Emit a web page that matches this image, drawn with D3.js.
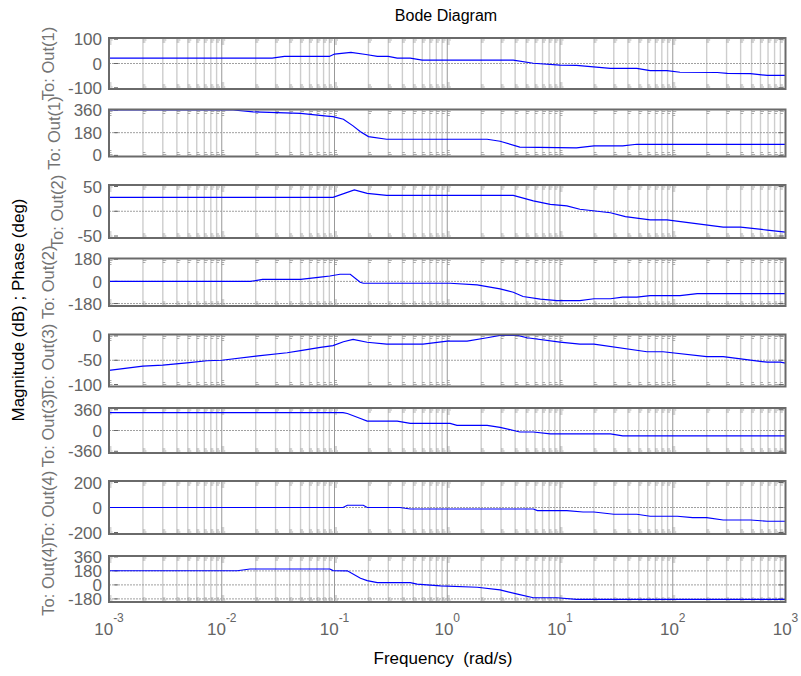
<!DOCTYPE html>
<html>
  <head>
    <meta charset="utf-8">
    <title>Bode Diagram</title>
    <script src="https://cdn.jsdelivr.net/npm/d3@7"></script>
    <style>
      body { margin: 0; background: #fff; }
      svg { font-family: "Liberation Sans", Arial, sans-serif; }
    </style>
  </head>

  <body>
    <svg id="chart" width="801" height="676"></svg>

    <script>
      // data (frequency in rad/s, magnitude in dB, phase in deg)
      var out1MagW = [0.001, 0.028, 0.036, 0.09, 0.1, 0.14, 0.19, 0.24, 0.3, 0.36, 0.47, 0.6, 3.85, 5.8, 10, 14, 28, 48, 63, 89, 116, 248, 305, 488, 690, 1000];
      var out1MagDb = [22, 22, 29, 29, 39, 46, 37, 29, 29, 22, 22, 14, 14, 1, -7, -8, -20, -20, -29, -29, -36, -37, -41, -42, -49, -49];
      var out1PhaseW = [0.001, 0.0126, 0.019, 0.05, 0.086, 0.097, 0.12, 0.146, 0.17, 0.2, 0.29, 2.26, 2.94, 4.4, 14, 20, 36, 48, 1000];
      var out1PhaseDeg = [360, 360, 345, 333, 312, 307, 287, 234, 188, 149, 128, 128, 112, 65, 60, 75, 75, 88, 88];

      var out2MagW = [0.001, 0.097, 0.15, 0.195, 0.29, 3.85, 5.8, 8.2, 11.5, 15, 28, 38, 63, 89, 280, 400, 690, 1000];
      var out2MagDb = [28, 28, 43, 36, 32, 32, 21, 14, 11, 4, -3, -11, -17.5, -17.5, -32, -32, -38, -42];
      var out2PhaseW = [0.001, 0.018, 0.023, 0.05, 0.075, 0.091, 0.112, 0.138, 0.169, 0.18, 1.06, 1.84, 2.94, 3.85, 4.7, 6.7, 9.4, 15, 20, 28, 36, 48, 63, 116, 165, 1000];
      var out2PhaseDeg = [0, 0, 16, 16, 34, 44, 58, 58, -7, -15, -15, -29, -61, -88, -123, -144, -157, -157, -141, -141, -128, -128, -115, -115, -99, -99];

      var out3MagW = [0.001, 0.002, 0.003, 0.0049, 0.0074, 0.01, 0.021, 0.038, 0.05, 0.075, 0.097, 0.12, 0.146, 0.195, 0.29, 0.61, 1.0, 1.5, 2.26, 2.94, 4.2, 5.1, 10, 15, 20, 59, 82, 200, 280, 690, 900, 1000];
      var out3MagDb = [-71, -62, -60, -55.5, -51, -50, -41, -34.5, -30, -23.5, -20, -12, -7, -13, -17, -17, -10.6, -10.6, -3.7, 1, 1, -3.7, -12.5, -17, -17, -32.5, -32.5, -42.6, -42.6, -54, -54, -56];
      var out3PhaseW = [0.001, 0.119, 0.13, 0.17, 0.195, 0.36, 0.47, 1.06, 1.22, 2.26, 2.94, 4.4, 5.8, 8.2, 28, 36, 1000];
      var out3PhaseDeg = [311, 311, 294, 209, 162, 162, 123, 123, 89, 89, 55, -26, -26, -60, -60, -94, -94];

      var out4MagW = [0.001, 0.119, 0.13, 0.18, 0.195, 0.38, 0.47, 5.8, 6.3, 11.5, 16, 20, 30, 48, 63, 110, 150, 200, 280, 490, 690, 1000];
      var out4MagDb = [0, 0, 18, 18, 0, 0, -12, -12, -25, -25, -36, -36, -54, -54, -70, -70, -81, -81, -100, -100, -110, -110];
      var out4PhaseW = [0.001, 0.0137, 0.0178, 0.091, 0.097, 0.13, 0.17, 0.195, 0.24, 0.47, 0.54, 0.87, 1.84, 2.94, 4.2, 5.8, 9.4, 14, 1000];
      var out4PhaseDeg = [182, 182, 205, 205, 185, 181, 85, 55, 30, 30, 9, -13, -30, -64, -119, -165, -165, -186, -186];

      // axis settings
      var outputLabels = ["To: Out(1)", "To: Out(1)", "To: Out(2)", "To: Out(2)", "To: Out(3)", "To: Out(3)", "To: Out(4)", "To: Out(4)"];
      var yTicks = [
        [-100, 0, 100], [0, 180, 360],
        [-50, 0, 50], [-180, 0, 180],
        [-100, -50, 0], [-360, 0, 360],
        [-200, 0, 200], [-180, 0, 180, 360]
      ];
      var yLimits = [
        [-105, 105], [-9, 364],
        [-54, 53], [-200, 186],
        [-104, 3], [-390, 390],
        [-212, 212], [-220, 372]
      ];
      var xTickExponents = [-3, -2, -1, 0, 1, 2, 3];

      var series = [
        [out1MagW, out1MagDb], [out1PhaseW, out1PhaseDeg],
        [out2MagW, out2MagDb], [out2PhaseW, out2PhaseDeg],
        [out3MagW, out3MagDb], [out3PhaseW, out3PhaseDeg],
        [out4MagW, out4MagDb], [out4PhaseW, out4PhaseDeg]
      ];

      // layout (pixel top / bottom of each axes box)
      var boxes = [
        [38, 89], [109.5, 156.5],
        [185, 238], [258.5, 306],
        [334.5, 386.5], [408, 453],
        [481, 534], [556, 602]
      ];
      var plotLeft = 109;
      var plotRight = 785.5;
      var textGray = "#646464";

      var chart = d3.select("#chart");
      var x = d3.scaleLog()
        .domain([1e-3, 1e3])
        .range([plotLeft, plotRight]);

      // grid frequencies: 2..9 x each decade plus the decades themselves
      var gridW = [];
      for (var k = -3; k < 3; k++) {
        for (var m = 1; m <= 9; m++) {
          if (k > -3 || m > 1) gridW.push(m * Math.pow(10, k));
        }
      }
      function isDecade(w) {
        return Math.abs(Math.log10(w) - Math.round(Math.log10(w))) < 1e-9;
      }

      series.forEach(function(s, i) {
        var yTop = boxes[i][0];
        var yBot = boxes[i][1];
        var y = d3.scaleLinear()
          .domain(yLimits[i])
          .range([yBot, yTop]);
        var g = chart.append("g").attr("class", "panel");

        // vertical grid
        g.selectAll(".vgrid")
          .data(gridW)
          .enter()
          .append("line")
            .attr("x1", function(w) { return x(w); })
            .attr("x2", function(w) { return x(w); })
            .attr("y1", yTop)
            .attr("y2", yBot)
            .attr("stroke", function(w) { return isDecade(w) ? "#999" : "#cdcdcd"; })
            .attr("stroke-width", function(w) { return isDecade(w) ? 1 : 1.4; });

        // little minor tick marks at top and bottom of each grid line
        gridW.concat([1e-3]).forEach(function(w) {
          var offs = isDecade(w) ? [2, 4, 6] : [2, 4];
          offs.forEach(function(o, j) {
            var len = j == 0 ? 3.5 : 2.5;
            [yTop + o, yBot - o].forEach(function(yy) {
              g.append("line")
                .attr("x1", x(w)).attr("x2", x(w) + len)
                .attr("y1", yy).attr("y2", yy)
                .attr("stroke", "#8a8a8a").attr("stroke-width", 0.7);
            });
          });
        });

        // horizontal grid at inner ticks
        g.selectAll(".hgrid")
          .data(yTicks[i].filter(function(t) { return y(t) > yTop + 2 && y(t) < yBot - 2; }))
          .enter()
          .append("line")
            .attr("x1", plotLeft)
            .attr("x2", plotRight)
            .attr("y1", function(t) { return y(t); })
            .attr("y2", function(t) { return y(t); })
            .attr("stroke", "#a0a0a0")
            .attr("stroke-width", 1)
            .attr("stroke-dasharray", "2,1");

        // y tick marks left and right
        g.selectAll(".ytickL")
          .data(yTicks[i])
          .enter()
          .append("line")
            .attr("x1", plotLeft + 5)
            .attr("x2", plotLeft + 9)
            .attr("y1", function(t) { return y(t); })
            .attr("y2", function(t) { return y(t); })
            .attr("stroke", "#666");
        g.selectAll(".ytickR")
          .data(yTicks[i])
          .enter()
          .append("line")
            .attr("x1", plotRight - 7)
            .attr("x2", plotRight - 2)
            .attr("y1", function(t) { return y(t); })
            .attr("y2", function(t) { return y(t); })
            .attr("stroke", "#666");

        // response line
        var line = d3.line()
          .x(function(d) { return x(d[0]); })
          .y(function(d) { return y(d[1]); });
        g.append("path")
          .attr("d", line(d3.zip(s[0], s[1])))
          .attr("fill", "none")
          .attr("stroke", "#0000ff")
          .attr("stroke-width", 1.2);

        // axes box
        g.append("rect")
          .attr("x", plotLeft)
          .attr("y", yTop)
          .attr("width", plotRight - plotLeft)
          .attr("height", yBot - yTop)
          .attr("fill", "none")
          .attr("stroke", "#6a6a6a")
          .attr("stroke-width", 2);

        // y tick labels
        var labels = g.selectAll(".ylab")
          .data(yTicks[i])
          .enter()
          .append("text")
            .attr("x", plotLeft - 7)
            .attr("y", function(t) { return y(t); })
            .attr("dy", "0.36em")
            .attr("text-anchor", "end")
            .attr("font-size", 17)
            .attr("fill", textGray)
            .text(function(t) { return t; });
        var widest = 0;
        labels.each(function() {
          widest = Math.max(widest, this.getComputedTextLength());
        });

        // output label, rotated
        var lx = plotLeft - 7 - widest - 14;
        var ly = (yTop + yBot) / 2;
        g.append("text")
          .attr("transform", "translate(" + lx + "," + ly + ") rotate(-90)")
          .attr("text-anchor", "middle")
          .attr("font-size", 16.5)
          .attr("fill", "#737373")
          .text(outputLabels[i]);
      });

      // x tick labels 10^n
      var xLabels = chart.selectAll(".xlab")
        .data(xTickExponents)
        .enter()
        .append("text")
          .attr("x", function(e) { return x(Math.pow(10, e)); })
          .attr("y", 635)
          .attr("text-anchor", "middle")
          .attr("font-size", 17)
          .attr("fill", textGray);
      xLabels.append("tspan")
        .text("10");
      xLabels.append("tspan")
        .attr("dy", -13)
        .attr("font-size", 12)
        .text(function(e) { return e; });

      // titles
      chart.append("text")
        .attr("x", 446)
        .attr("y", 21)
        .attr("text-anchor", "middle")
        .attr("font-size", 16)
        .attr("fill", "#000")
        .text("Bode Diagram");
      chart.append("text")
        .attr("x", 443)
        .attr("y", 664)
        .attr("text-anchor", "middle")
        .attr("font-size", 17)
        .attr("fill", "#000")
        .style("white-space", "pre")
        .text("Frequency  (rad/s)");
      chart.append("text")
        .attr("transform", "translate(24,310) rotate(-90)")
        .attr("text-anchor", "middle")
        .attr("font-size", 17)
        .attr("fill", "#000")
        .text("Magnitude (dB) ; Phase (deg)");
    </script>
  </body>
</html>
